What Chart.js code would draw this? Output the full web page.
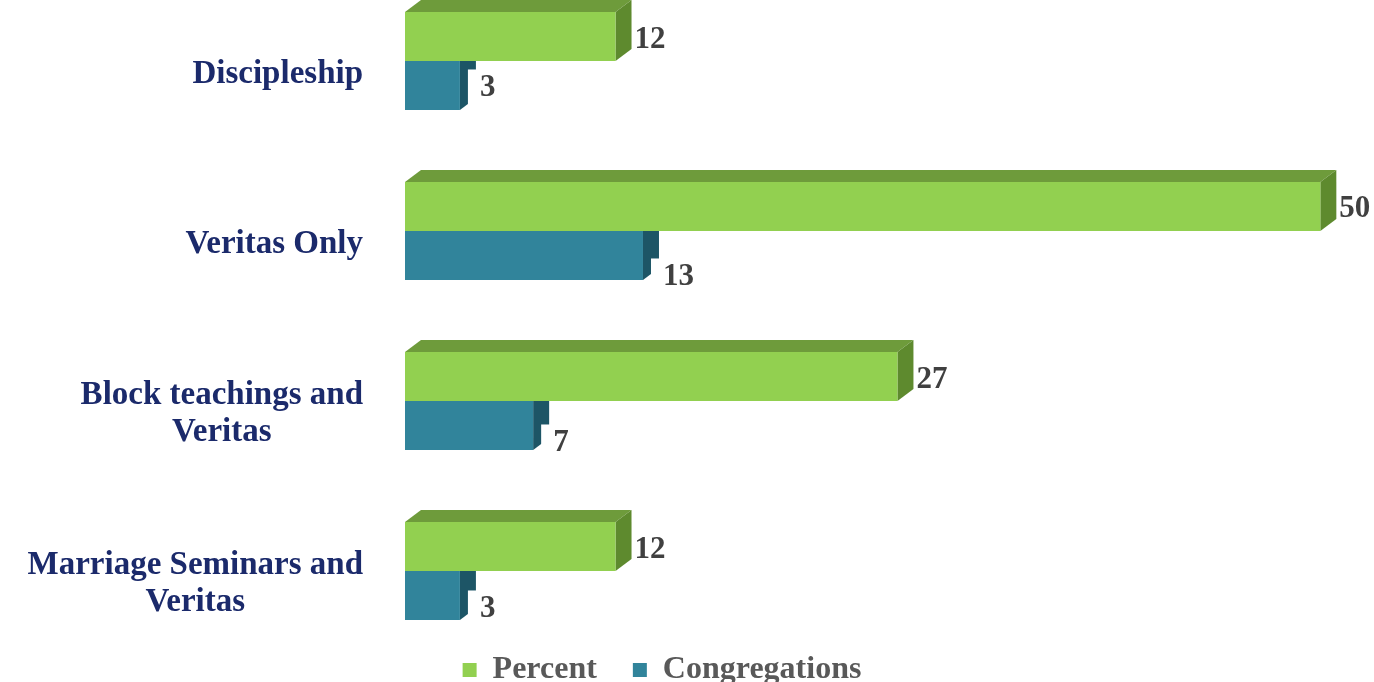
<!DOCTYPE html>
<html lang="en">
<head>
    <meta charset="UTF-8">
    <title>Programs</title>
    <style>
        html, body { margin: 0; padding: 0; background: #fff; overflow: hidden; }
        #wrap { position: absolute; left: 0; top: -24px; width: 1374px; height: 758px; }
    </style>
</head>
<body>
    <div id="wrap"><canvas id="programChart"></canvas></div>

    <script src="https://cdn.jsdelivr.net/npm/chart.js"></script>
    <script>
        // data
        const categories = [
            ['Discipleship'],
            ['Veritas Only'],
            ['Block teachings and', 'Veritas'],
            ['Marriage Seminars and', 'Veritas']
        ];
        const seriesNames = ['Percent', 'Congregations'];
        const percentValues = [11.5, 50, 26.9, 11.5];
        const congregationValues = [3, 13, 7, 3];

        const serif = "'Liberation Serif', 'Times New Roman', serif";
        const depthX = 16, depthY = -12;
        const frontColors = ['#92D050', '#31849B'];
        const faceColors = [
            { top: '#6E9B3B', side: '#5E8A2E' },
            { top: '#1E5E70', side: '#1D5566' }
        ];
        // small vertical shifts the original labels had
        const labelNudge = [[3, 2, 3, 3], [3, 22, 18, 14]];

        // top + side faces for the 3d look, drawn before the front faces
        const bar3d = {
            id: 'bar3d',
            beforeDatasetsDraw(chart) {
                const ctx = chart.ctx;
                ctx.save();
                [1, 0].forEach(di => {
                    chart.getDatasetMeta(di).data.forEach(bar => {
                        const { x, y, base, height } = bar.getProps(['x', 'y', 'base', 'height'], true);
                        const t = y - height / 2, b = y + height / 2;
                        ctx.fillStyle = faceColors[di].top;
                        ctx.beginPath();
                        ctx.moveTo(base, t);
                        ctx.lineTo(base + depthX, t + depthY);
                        ctx.lineTo(x + depthX, t + depthY);
                        ctx.lineTo(x, t);
                        ctx.closePath();
                        ctx.fill();
                        ctx.fillStyle = faceColors[di].side;
                        ctx.beginPath();
                        ctx.moveTo(x, t);
                        ctx.lineTo(x + depthX, t + depthY);
                        ctx.lineTo(x + depthX, b + depthY);
                        ctx.lineTo(x, b);
                        ctx.closePath();
                        ctx.fill();
                    });
                });
                ctx.restore();
            }
        };

        // value labels next to each bar
        const valueLabels = {
            id: 'valueLabels',
            afterDatasetsDraw(chart) {
                const ctx = chart.ctx;
                ctx.save();
                ctx.font = 'bold 31px ' + serif;
                ctx.textBaseline = 'middle';
                ctx.textAlign = 'left';
                chart.data.datasets.forEach((ds, di) => {
                    chart.getDatasetMeta(di).data.forEach((bar, i) => {
                        const txt = String(Math.round(ds.data[i]));
                        const lx = bar.x + depthX + (di === 1 ? 4 : 3);
                        const ly = bar.y + labelNudge[di][i];
                        if (di === 1) {
                            const w = ctx.measureText(txt).width;
                            ctx.fillStyle = '#fff';
                            ctx.fillRect(lx - 12, ly - 19, w + 24, 36);
                        }
                        ctx.fillStyle = '#404040';
                        ctx.fillText(txt, lx, ly);
                    });
                });
                ctx.restore();
            }
        };

        // category names, lines centred, block right-aligned
        const categoryLabels = {
            id: 'categoryLabels',
            afterDraw(chart) {
                const ctx = chart.ctx;
                const yScale = chart.scales.y;
                const right = chart.chartArea.left - 42;
                const lineH = 37;
                ctx.save();
                ctx.font = 'bold 33px ' + serif;
                ctx.fillStyle = '#1B2A6B';
                ctx.textAlign = 'center';
                ctx.textBaseline = 'middle';
                categories.forEach((lines, i) => {
                    const cy = yScale.getPixelForValue(i) + 13;
                    const maxW = Math.max(...lines.map(l => ctx.measureText(l).width));
                    const cx = right - maxW / 2;
                    const y0 = cy - (lines.length - 1) * lineH / 2;
                    lines.forEach((l, k) => ctx.fillText(l, cx, y0 + k * lineH));
                });
                ctx.restore();
            }
        };

        // move the legend up under the bars
        const legendShift = {
            id: 'legendShift',
            afterLayout(chart) {
                const lg = chart.legend;
                const wantTop = 694 - 36 - 16;
                const d = lg.top - wantTop;
                lg.top -= d;
                lg.bottom -= d;
            }
        };

        const ctx = document.getElementById('programChart').getContext('2d');
        new Chart(ctx, {
            type: 'bar',
            data: {
                labels: categories,
                datasets: [
                    {
                        label: seriesNames[0],
                        data: percentValues,
                        backgroundColor: frontColors[0],
                        borderWidth: 0
                    },
                    {
                        label: seriesNames[1],
                        data: congregationValues,
                        backgroundColor: frontColors[1],
                        borderWidth: 0
                    }
                ]
            },
            options: {
                indexAxis: 'y',
                responsive: true,
                maintainAspectRatio: false,
                animation: false,
                layout: { padding: { left: 0, right: 50, top: 0, bottom: 0 } },
                datasets: {
                    bar: { barPercentage: 1, categoryPercentage: 0.576 }
                },
                scales: {
                    x: { display: false, min: 0, max: 50.2 },
                    y: {
                        grid: { display: false },
                        border: { display: false },
                        ticks: { display: false },
                        afterFit: s => { s.width = 405; }
                    }
                },
                plugins: {
                    tooltip: { enabled: false },
                    legend: {
                        position: 'bottom',
                        labels: {
                            color: '#595959',
                            font: { family: serif, size: 32, weight: 'bold' },
                            boxWidth: 14,
                            boxHeight: 14,
                            padding: 36
                        }
                    }
                }
            },
            plugins: [bar3d, valueLabels, categoryLabels, legendShift]
        });
    </script>
</body>
</html>
